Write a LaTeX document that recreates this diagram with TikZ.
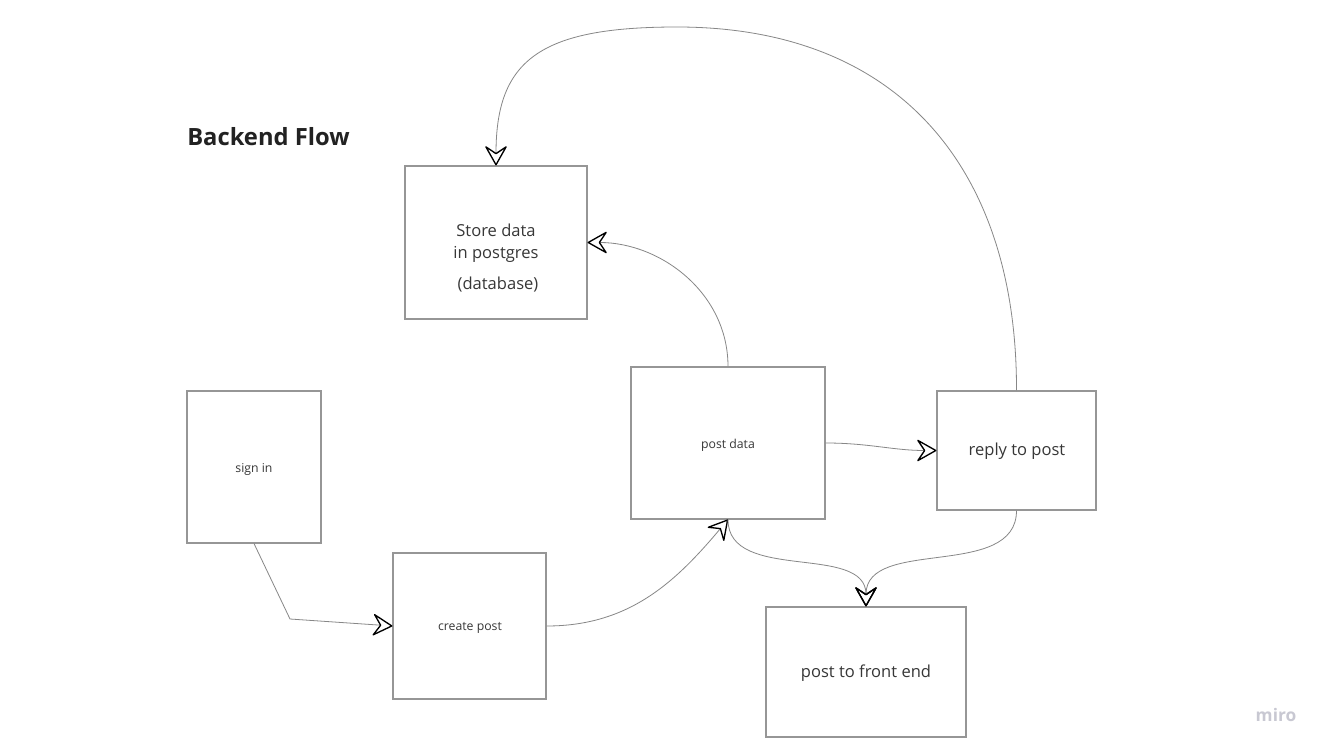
\documentclass[tikz,border=0pt]{standalone}
\usepackage{fontspec}
\setmainfont{Open Sans}
\usetikzlibrary{arrows.meta}

\definecolor{edgegray}{RGB}{135,135,135}
\definecolor{boxgray}{RGB}{150,150,150}
\definecolor{inkgray}{RGB}{55,55,55}
\definecolor{logogray}{RGB}{200,200,210}

\begin{document}
\begin{tikzpicture}[x=0.75pt,y=-0.75pt,
  box/.style={draw=boxgray, line width=0.8pt, inner sep=0pt, fill=white},
  bigtext/.style={text=inkgray, font=\fontsize{12.4pt}{16.5pt}\selectfont, align=center},
  smalltext/.style={text=inkgray, font=\fontsize{9.2pt}{11pt}\selectfont},
  conn/.style={draw=edgegray, line width=0.6pt,
    -{Stealth[open, round, length=16pt, width=18pt, inset=6pt, line width=1pt, color=black]}}
]
% canvas
\path[use as bounding box, fill=white] (0,0) rectangle (1328,752);

% title
\node[anchor=west, inner sep=0pt, font=\fontsize{17.8pt}{21pt}\selectfont\bfseries,
  text={rgb,255:red,34;green,34;blue,34}] (title) at (187,137) {Backend Flow};

% boxes
\node[box, minimum width=136.5pt, minimum height=114.75pt] (store)    at (496,242.5) {};
\node[box, minimum width=100.5pt, minimum height=114pt]    (signin)   at (254,467)   {};
\node[box, minimum width=114.75pt, minimum height=109.5pt] (create)   at (469.5,626) {};
\node[box, minimum width=145.5pt, minimum height=114pt]    (postdata) at (728,443)   {};
\node[box, minimum width=119.25pt, minimum height=89.25pt] (reply)    at (1016.5,450.5) {};
\node[box, minimum width=150pt, minimum height=97.5pt]     (front)    at (866,672)   {};

% box texts
\node[bigtext]   (storetxt)  at (496,243)  {Store data\\in postgres};
\node[bigtext]   (dbtxt)     at (498,285)  {(database)};
\node[smalltext] (signintxt) at (254,469)  {sign in};
\node[smalltext] (createtxt) at (470,628)  {create post};
\node[smalltext] (posttxt)   at (728,445)  {post data};
\node[bigtext]   (replytxt)  at (1017,451) {reply to post};
\node[bigtext]   (fronttxt)  at (866,673)  {post to front end};

% waypoints
\coordinate (kink) at (290,619);
\coordinate (top)  at (677,27);

% connectors
\draw[conn] (signin.south) -- (kink) -- (create.west);
\draw[conn] (create.east) to[out=0, in=-130] (postdata.south);
\draw[conn] (postdata.north) to[out=90, in=0] (store.east);
\draw[conn] (postdata.east) to[out=0, in=180] (reply.west);
\draw[conn] (reply.north) .. controls (1017,170) and (900,27) .. (top)
            .. controls (540,27) and (496,60) .. (store.north);
\draw[conn] (postdata.south) to[out=-90, in=90] (front.north);
\draw[conn] (reply.south) to[out=-90, in=90] (front.north);

% logo mark
\node[text=logogray, font=\fontsize{13pt}{15pt}\selectfont\bfseries] (logo) at (1276,715) {miro};
\end{tikzpicture}
\end{document}
